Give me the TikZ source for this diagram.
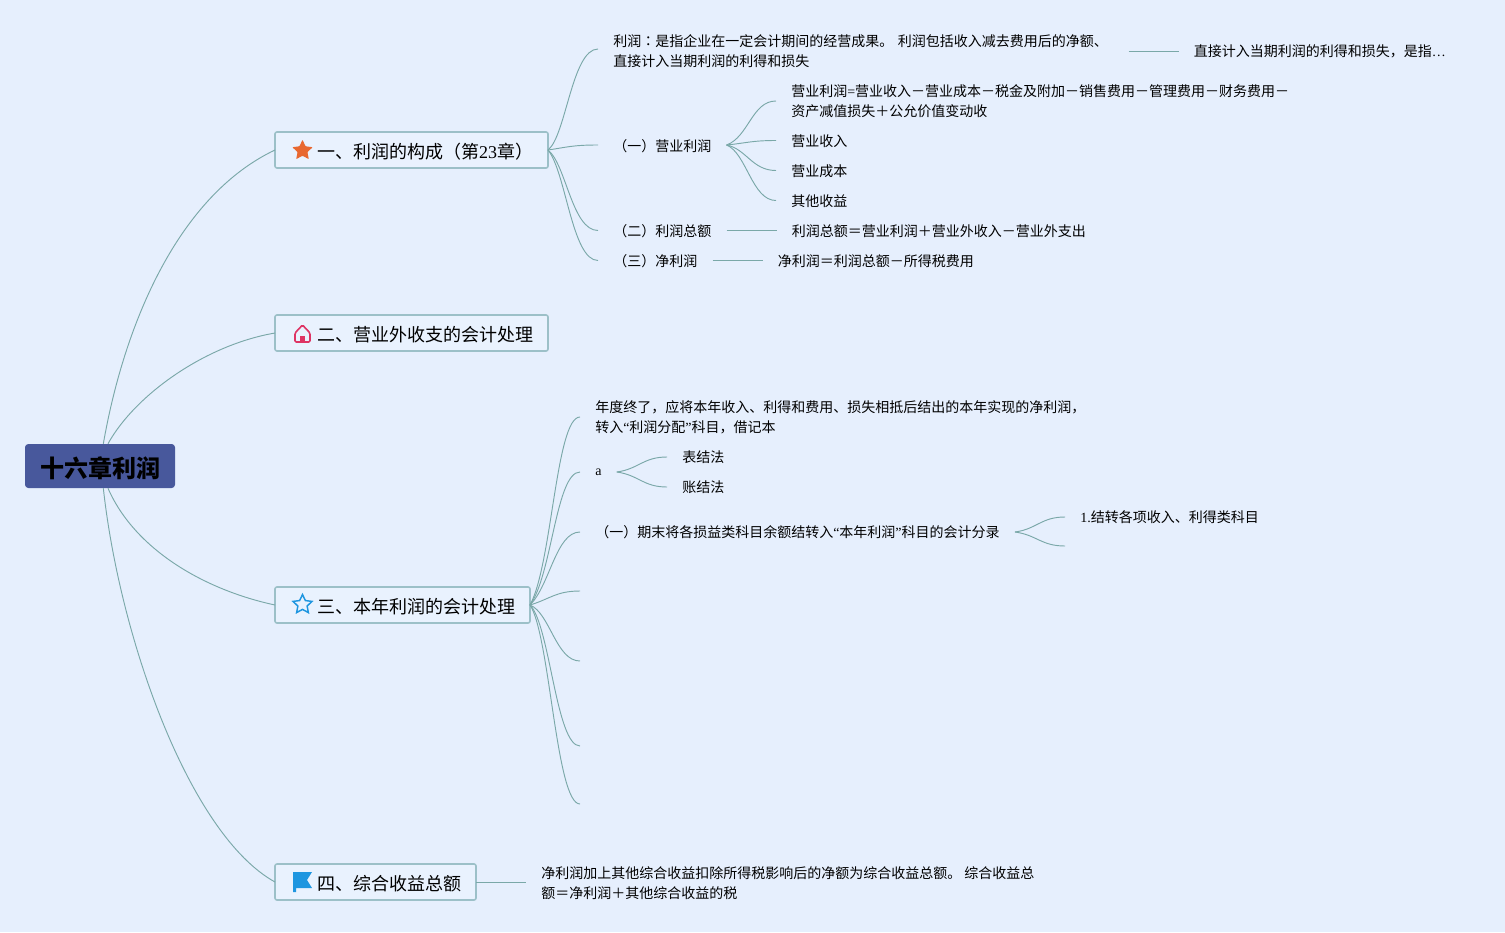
\documentclass[tikz,border=0pt]{standalone}
\usepackage{fontspec}
\usepackage{xcolor}
\usepackage{tikz}
\usetikzlibrary{positioning,shapes.geometric}
\setmainfont{Liberation Serif}
\newfontfamily\cjkfont{Noto Sans CJK SC}
\newfontfamily\tcfont{Noto Sans CJK TC}
\newcommand{\lat}[1]{{\rmfamily #1}}
\newcommand{\iconroom}{\hspace*{20.25pt}}
\definecolor{pagebg}{RGB}{230, 239, 253}
\definecolor{boxfill}{RGB}{233, 242, 254}
\definecolor{boxedge}{RGB}{156, 192, 200}
\definecolor{branchgreen}{RGB}{122, 168, 168}
\definecolor{rootblue}{RGB}{72, 88, 156}
\definecolor{staricon}{RGB}{232, 104, 48}
\definecolor{houseicon}{RGB}{222, 52, 100}
\definecolor{blueicon}{RGB}{30, 150, 224}
\tikzset{
 rootbox/.style={
 rectangle,
 rounded corners=2.5pt,
 fill=rootblue,
 align=center,
 minimum width=112.5pt,
 minimum height=33pt,
 inner sep=0pt,
 text height=17pt,
 text depth=0.5pt,
 font=\cjkfont\bfseries\fontsize{18pt}{21pt}\selectfont
 },
 topicbox/.style={
 rectangle,
 rounded corners=1.5pt,
 draw=boxedge,
 fill=boxfill,
 line width=1.2pt,
 anchor=west,
 outer sep=0pt,
 minimum height=27pt,
 inner xsep=11.25pt,
 inner ysep=0pt,
 text height=13pt,
 text depth=1pt,
 font=\cjkfont\fontsize{13.5pt}{16pt}\selectfont
 },
 leafbox/.style={
 rectangle,
 anchor=west,
 align=left,
 inner xsep=11.25pt,
 inner ysep=0pt,
 font=\cjkfont\fontsize{10.5pt}{15pt}\selectfont
 },
 oneline/.style={text height=9.5pt, text depth=0.5pt},
 branchline/.style={draw=branchgreen, line width=0.7pt}
}
\begin{document}
\begin{tikzpicture}[x=0.75pt,y=-0.75pt]
 \useasboundingbox (0,0) rectangle (1505,932);
 \fill[pagebg] (0,0) rectangle (1505,932);

 \node[rootbox] (root) at (100,466) {十六章利润};
 \node[topicbox] (topicone) at (275,150) {\iconroom 一、利润的构成（第\lat{23}章）};
 \node[topicbox] (topictwo) at (275,333) {\iconroom 二、营业外收支的会计处理};
 \node[topicbox] (topicthree) at (275,605) {\iconroom 三、本年利润的会计处理};
 \node[topicbox] (topicfour) at (275,882) {\iconroom 四、综合收益总额};

 % icons
 \node[star, star points=5, star point ratio=2.05, fill=staricon, minimum size=16pt, inner sep=0pt, rounded corners=0.5pt] (iconone) at (302.5,150.5) {};
 \draw[houseicon, line width=1.2pt, rounded corners=1pt] (295,342) -- (295,333) -- (302.5,325) -- (310,333) -- (310,342) -- cycle;
 \fill[houseicon] (300,342) -- (300,335.5) -- (305,335.5) -- (305,342) -- cycle;
 \node[star, star points=5, star point ratio=2.05, draw=blueicon, line width=1.1pt, minimum size=15pt, inner sep=0pt] (iconthree) at (302.5,604.5) {};
 \fill[blueicon] (293,872) -- (312,872) -- (307,880) -- (312,888) -- (296,888) -- (296,892) -- (293,892) -- cycle;

 % first topic
 \node[leafbox, text width=375pt] (profitdef) at (598,51) {利润{\tcfont ：}是指企业在一定会计期间的经营成果。 利润包括收入减去费用后的净额、\\直接计入当期利润的利得和损失};
 \node[leafbox, right=37.5pt of profitdef] (gainsdef) {直接计入当期利润的利得和损失，是指\lat{…}};
 \node[leafbox, oneline] (opprofit) at (598,145) {（一）营业利润};
 \node[leafbox] (opformula) at (776,101) {营业利润\lat{=}营业收入－营业成本－税金及附加－销售费用－管理费用－财务费用－\\资产减值损失＋公允价值变动收};
 \node[leafbox, oneline] (oprevenue) at (776,140.5) {营业收入};
 \node[leafbox, oneline] (opcost) at (776,170.5) {营业成本};
 \node[leafbox, oneline] (opother) at (776,200.5) {其他收益};
 \node[leafbox, oneline] (totalprofit) at (598,230.5) {（二）利润总额};
 \node[leafbox, oneline, right=37.5pt of totalprofit] (totalformula) {利润总额＝营业利润＋营业外收入－营业外支出};
 \node[leafbox, oneline] (netprofit) at (598,260.5) {（三）净利润};
 \node[leafbox, oneline, right=37.5pt of netprofit] (netformula) {净利润＝利润总额－所得税费用};

 % third topic
 \node[leafbox] (yearend) at (580,417) {年度终了，应将本年收入、利得和费用、损失相抵后结出的本年实现的净利润，\\转入\lat{“}利润分配\lat{”}科目，借记本};
 \node[leafbox] (lettera) at (580,472) {\lat{a}};
 \node[leafbox] (tablemethod) at (667,457) {表结法};
 \node[leafbox] (ledgermethod) at (667,487) {账结法};
 \node[leafbox] (closing) at (580,532) {（一）期末将各损益类科目余额结转入\lat{“}本年利润\lat{”}科目的会计分录};
 \node[leafbox] (closingone) at (1065,517) {\lat{1.}结转各项收入、利得类科目};
 \coordinate (closingtwo) at (1065,546);
 \coordinate (emptya) at (580,591);
 \coordinate (emptyb) at (580,661);
 \coordinate (emptyc) at (580,746);
 \coordinate (emptyd) at (580,804);

 % fourth topic
 \node[leafbox, right=37.5pt of topicfour, yshift=-1pt] (comprehensive) {净利润加上其他综合收益扣除所得税影响后的净额为综合收益总额。 综合收益总\\额＝净利润＋其他综合收益的税};

 \draw[branchline] ([xshift=2.5pt]root.north) .. controls (125,320) and (180,195) .. (topicone.west);
 \draw[branchline] ([xshift=6pt]root.north) .. controls (135,395) and (205,345) .. (topictwo.west);
 \draw[branchline] ([xshift=6pt]root.south) .. controls (135,550) and (205,590) .. (topicthree.west);
 \draw[branchline] ([xshift=2.5pt]root.south) .. controls (120,640) and (190,835) .. (topicfour.west);

 \draw[branchline] (topicone.east) .. controls +(18,-14) and +(-26,0) .. ([yshift=1.5pt]profitdef.west);
 \draw[branchline] (topicone.east) .. controls +(20,-3) and +(-25,0) .. (opprofit.west);
 \draw[branchline] (topicone.east) .. controls +(18,14) and +(-26,0) .. (totalprofit.west);
 \draw[branchline] (topicone.east) .. controls +(18,22) and +(-26,0) .. (netprofit.west);
 \draw[branchline] (profitdef.east) -- (gainsdef.west);
 \draw[branchline] (opprofit.east) .. controls +(22,-8) and +(-24,0) .. (opformula.west);
 \draw[branchline] (opprofit.east) .. controls +(20,-2) and +(-24,0) .. (oprevenue.west);
 \draw[branchline] (opprofit.east) .. controls +(20,4) and +(-24,0) .. (opcost.west);
 \draw[branchline] (opprofit.east) .. controls +(20,8) and +(-24,0) .. (opother.west);
 \draw[branchline] (totalprofit.east) -- (totalformula.west);
 \draw[branchline] (netprofit.east) -- (netformula.west);

 \draw[branchline] (topicthree.east) .. controls +(22,-40) and +(-24,0) .. (yearend.west);
 \draw[branchline] (topicthree.east) .. controls +(22,-30) and +(-24,0) .. (lettera.west);
 \draw[branchline] (topicthree.east) .. controls +(20,-20) and +(-24,0) .. (closing.west);
 \draw[branchline] (topicthree.east) .. controls +(20,-6) and +(-24,0) .. (emptya);
 \draw[branchline] (topicthree.east) .. controls +(20,8) and +(-24,0) .. (emptyb);
 \draw[branchline] (topicthree.east) .. controls +(20,20) and +(-24,0) .. (emptyc);
 \draw[branchline] (topicthree.east) .. controls +(20,30) and +(-24,0) .. (emptyd);
 \draw[branchline] (lettera.east) .. controls +(22,-3) and +(-24,0) .. (tablemethod.west);
 \draw[branchline] (lettera.east) .. controls +(22,3) and +(-24,0) .. (ledgermethod.west);
 \draw[branchline] (closing.east) .. controls +(22,-3) and +(-24,0) .. (closingone.west);
 \draw[branchline] (closing.east) .. controls +(22,3) and +(-24,0) .. (closingtwo);

 \draw[branchline] (topicfour.east) -- ([yshift=1pt]comprehensive.west);
\end{tikzpicture}
\end{document}
